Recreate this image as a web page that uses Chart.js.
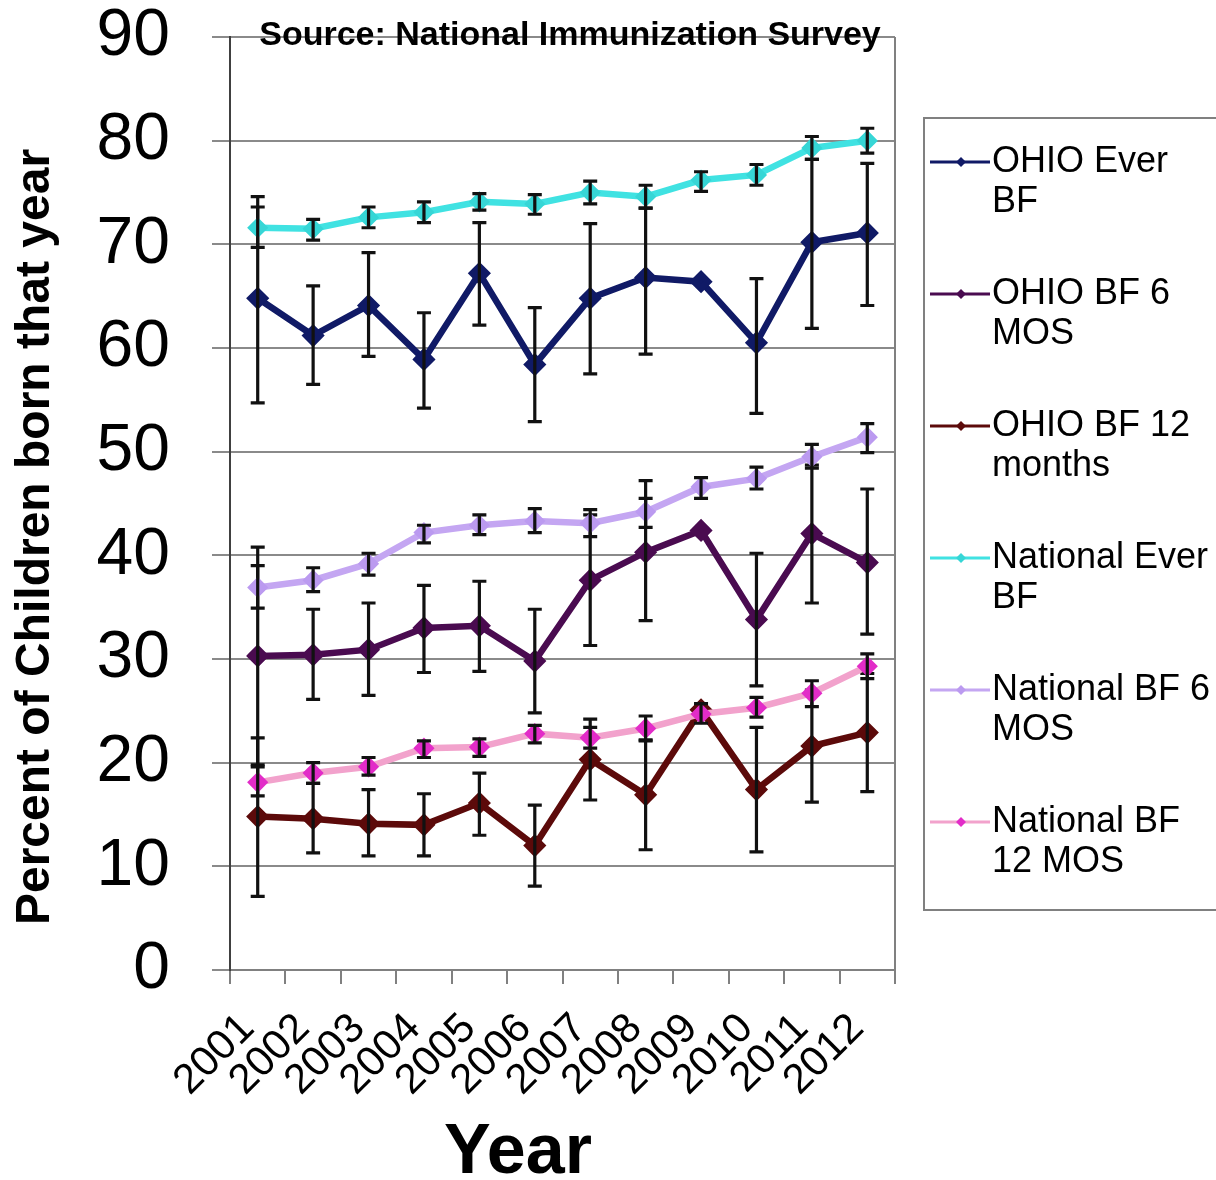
<!DOCTYPE html>
<html>
<head>
<meta charset="utf-8">
<script src="https://cdn.jsdelivr.net/npm/chart.js@4"></script>
<style>
  html, body { margin: 0; padding: 0; background: #fff; }
  #chart { position: absolute; left: 0; top: 0; }
</style>
</head>
<body>
<canvas id="chart" width="1216" height="1180"></canvas>
<script>
const years = ['2001','2002','2003','2004','2005','2006','2007','2008','2009','2010','2011','2012'];
const yTicks = [0, 10, 20, 30, 40, 50, 60, 70, 80, 90];

const ohioEver   = [64.8, 61.2, 64.1, 58.9, 67.2, 58.4, 64.8, 66.8, 66.4, 60.5, 70.2, 71.1];
const ohioEverLo = [54.7, 56.5, 59.2, 54.2, 62.2, 52.9, 57.5, 59.4, null, 53.7, 61.9, 64.1];
const ohioEverHi = [74.6, 66.0, 69.2, 63.4, 72.1, 63.9, 72.0, 73.5, null, 66.7, 78.2, 77.8];

const ohio6   = [30.3, 30.4, 30.9, 33.0, 33.2, 29.8, 37.6, 40.3, 42.4, 33.8, 42.1, 39.3];
const ohio6Lo = [19.8, 26.1, 26.5, 28.7, 28.8, 24.8, 31.3, 33.7, null, 27.4, 35.4, 32.4];
const ohio6Hi = [40.8, 34.8, 35.4, 37.1, 37.5, 34.8, 43.9, 47.2, null, 40.2, 48.7, 46.4];

const ohio12   = [14.8, 14.6, 14.1, 14.0, 16.1, 12.0, 20.3, 16.9, 25.1, 17.4, 21.6, 22.9];
const ohio12Lo = [7.1, 11.3, 11.0, 11.0, 13.0, 8.1, 16.4, 11.6, null, 11.4, 16.2, 17.2];
const ohio12Hi = [22.4, 18.0, 17.4, 17.0, 19.0, 15.9, 24.2, 22.2, null, 23.4, 27.0, 28.6];

const natEver   = [71.6, 71.5, 72.6, 73.1, 74.1, 73.9, 75.0, 74.6, 76.2, 76.7, 79.3, 80.0];
const natEverLo = [69.7, 70.4, 71.6, 72.1, 73.3, 72.9, 73.9, 73.5, 75.1, 75.7, 78.2, 78.8];
const natEverHi = [73.6, 72.4, 73.6, 74.1, 74.9, 74.8, 76.1, 75.7, 77.0, 77.7, 80.4, 81.2];

const nat6   = [36.9, 37.6, 39.2, 42.2, 42.9, 43.3, 43.1, 44.2, 46.6, 47.4, 49.5, 51.4];
const nat6Lo = [34.9, 36.5, 38.1, 41.2, 42.0, 42.2, 41.8, 42.7, 45.5, 46.4, 48.4, 49.9];
const nat6Hi = [39.0, 38.8, 40.2, 42.9, 43.9, 44.5, 44.4, 45.5, 47.5, 48.5, 50.7, 52.7];

const nat12   = [18.1, 19.0, 19.6, 21.4, 21.5, 22.8, 22.4, 23.3, 24.7, 25.3, 26.7, 29.3];
const nat12Lo = [16.8, 18.0, 18.8, 20.5, 20.6, 21.9, 21.4, 22.1, 23.8, 24.4, 25.4, 28.1];
const nat12Hi = [19.6, 20.0, 20.5, 22.1, 22.3, 23.6, 23.4, 24.5, 25.7, 26.3, 27.9, 30.5];

const legendLines = [
    ['OHIO Ever', 'BF'],
    ['OHIO BF 6', 'MOS'],
    ['OHIO BF 12', 'months'],
    ['National Ever', 'BF'],
    ['National BF 6', 'MOS'],
    ['National BF', '12 MOS'],
];

const FONT = '"Liberation Sans", Arial, sans-serif';

function series(label, data, lo, hi, line, marker, radius, order) {
    return {
        label: label,
        data: data,
        errLo: lo,
        errHi: hi,
        borderColor: line,
        backgroundColor: marker,
        pointBackgroundColor: marker,
        pointBorderColor: marker,
        pointStyle: 'rectRot',
        pointRadius: radius,
        borderWidth: 6.5,
        tension: 0,
        order: order,
    };
}

const datasets = [
    series('OHIO Ever BF', ohioEver, ohioEverLo, ohioEverHi, '#101a66', '#101a66', 7, 6),
    series('OHIO BF 6 MOS', ohio6, ohio6Lo, ohio6Hi, '#4a0b50', '#4a0b50', 7, 5),
    series('OHIO BF 12 months', ohio12, ohio12Lo, ohio12Hi, '#5c0a0a', '#5c0a0a', 7, 4),
    series('National Ever BF', natEver, natEverLo, natEverHi, '#40e2e2', '#36d6d6', 6, 3),
    series('National BF 6 MOS', nat6, nat6Lo, nat6Hi, '#c4a6f2', '#bb9af0', 6, 2),
    series('National BF 12 MOS', nat12, nat12Lo, nat12Hi, '#f2a2cc', '#e22cc8', 6, 1),
];

// error bars drawn right after each series, like the spreadsheet does
const errorBars = {
    id: 'errorBars',
    afterDatasetDraw(chart, args) {
        const ds = chart.data.datasets[args.index];
        const meta = args.meta;
        const y = chart.scales.y;
        const ctx = chart.ctx;
        ctx.save();
        ctx.strokeStyle = '#111';
        ctx.lineWidth = 3.2;
        meta.data.forEach(function (pt, i) {
            if (ds.errLo[i] == null) return;
            const x = pt.x;
            const y1 = y.getPixelForValue(ds.errLo[i]);
            const y2 = y.getPixelForValue(ds.errHi[i]);
            ctx.beginPath();
            ctx.moveTo(x, y1); ctx.lineTo(x, y2);
            ctx.moveTo(x - 7, y1); ctx.lineTo(x + 7, y1);
            ctx.moveTo(x - 7, y2); ctx.lineTo(x + 7, y2);
            ctx.stroke();
        });
        ctx.restore();
    }
};

// titles, source note, right border and the boxed legend
const decorations = {
    id: 'decorations',
    beforeDatasetsDraw(chart) {
        const a = chart.chartArea;
        const ctx = chart.ctx;
        ctx.save();
        ctx.strokeStyle = '#808080';
        ctx.lineWidth = 2;
        ctx.beginPath();
        ctx.moveTo(a.right, a.top);
        ctx.lineTo(a.right, a.bottom);
        ctx.stroke();
        ctx.restore();
    },
    afterDraw(chart) {
        const ctx = chart.ctx;
        ctx.save();
        ctx.fillStyle = '#000';
        ctx.textAlign = 'center';
        ctx.textBaseline = 'middle';

        ctx.font = 'bold 34px ' + FONT;
        ctx.fillText('Source: National Immunization Survey', 570, 36);

        ctx.font = 'bold 70px ' + FONT;
        ctx.fillText('Year', 518, 1154);

        ctx.save();
        ctx.translate(36, 537);
        ctx.rotate(-Math.PI / 2);
        ctx.font = 'bold 48px ' + FONT;
        ctx.fillText('Percent of Children born that year', 0, 0);
        ctx.restore();

        // legend box
        ctx.strokeStyle = '#808080';
        ctx.lineWidth = 2;
        ctx.strokeRect(924, 118, 310, 792);

        ctx.textAlign = 'left';
        ctx.font = '36px ' + FONT;
        legendLines.forEach(function (lines, i) {
            const ds = chart.data.datasets[i];
            const yy = 162 + i * 132;
            ctx.strokeStyle = ds.borderColor;
            ctx.lineWidth = 3;
            ctx.beginPath();
            ctx.moveTo(930, yy);
            ctx.lineTo(990, yy);
            ctx.stroke();
            ctx.fillStyle = ds.pointBackgroundColor;
            ctx.beginPath();
            ctx.moveTo(961, yy - 5); ctx.lineTo(966, yy);
            ctx.lineTo(961, yy + 5); ctx.lineTo(956, yy);
            ctx.closePath();
            ctx.fill();
            ctx.fillStyle = '#000';
            ctx.fillText(lines[0], 992, yy);
            ctx.fillText(lines[1], 992, yy + 40);
        });
        ctx.restore();
    }
};

new Chart(document.getElementById('chart').getContext('2d'), {
    type: 'line',
    data: { labels: years, datasets: datasets },
    plugins: [errorBars, decorations],
    options: {
        responsive: false,
        animation: false,
        devicePixelRatio: 1,
        layout: { padding: { left: 0, right: 321, top: 37, bottom: 0 } },
        plugins: {
            legend: { display: false },
            tooltip: { enabled: false },
        },
        scales: {
            x: {
                offset: true,
                grid: {
                    offset: true,
                    drawOnChartArea: false,
                    color: '#808080',
                    lineWidth: 2,
                    tickLength: 14,
                },
                border: { color: '#808080', width: 2 },
                ticks: {
                    color: '#000',
                    font: { family: FONT, size: 42 },
                    maxRotation: 45,
                    minRotation: 45,
                    padding: 20,
                    labelOffset: -10,
                    autoSkip: false,
                },
                afterFit: function (scale) {
                    scale.height = 210;
                    scale.paddingLeft = 0;
                    scale.paddingRight = 0;
                },
            },
            y: {
                min: 0,
                max: 90,
                afterBuildTicks: function (scale) {
                    scale.ticks = yTicks.map(function (v) { return { value: v }; });
                },
                grid: {
                    color: '#8a8a8a',
                    lineWidth: 2,
                    tickLength: 18,
                },
                border: { color: '#404040', width: 2 },
                ticks: {
                    color: '#000',
                    font: { family: FONT, size: 66 },
                    padding: 42,
                },
                afterFit: function (scale) {
                    scale.width = 230;
                    scale.paddingTop = 0;
                    scale.paddingBottom = 0;
                },
            },
        },
    },
});
</script>
</body>
</html>
